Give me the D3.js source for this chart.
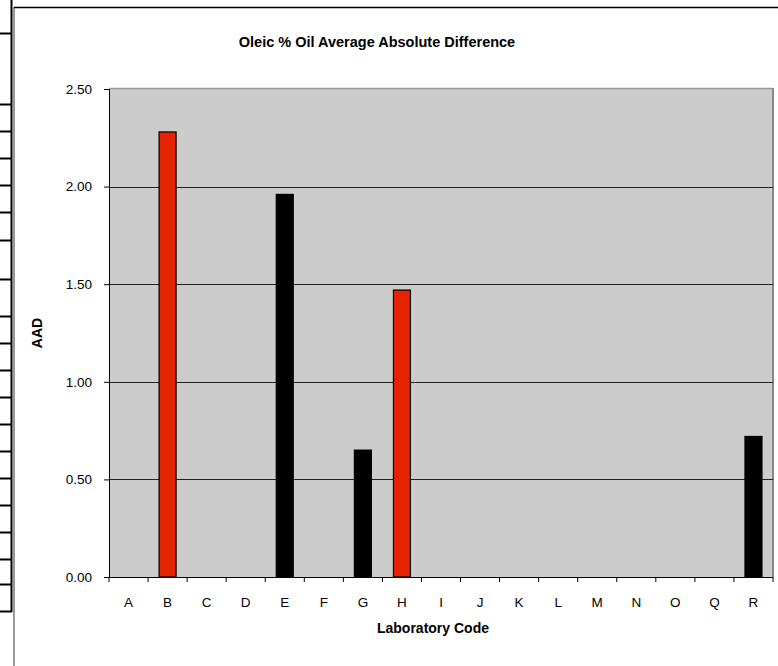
<!DOCTYPE html>
<html><head><meta charset="utf-8">
<script src="https://cdn.jsdelivr.net/npm/d3@7"></script>
<style>body{margin:0;background:#fff}svg{display:block;font-family:"Liberation Sans",Arial,sans-serif}</style>
</head><body>
<svg id="c" width="778" height="666"></svg>
<script>
const categories = ["A","B","C","D","E","F","G","H","I","J","K","L","M","N","O","Q","R"];
const values =     [0, 2.28, 0, 0, 1.96, 0, 0.65, 1.47, 0, 0, 0, 0, 0, 0, 0, 0, 0.72];
const barColors =  ["black","red","black","black","black","black","black","red","black","black","black","black","black","black","black","black","black"];
const yTicks = [0, 0.5, 1.0, 1.5, 2.0, 2.5];
const title = "Oleic % Oil Average Absolute Difference";
const xTitle = "Laboratory Code";
const yTitle = "AAD";
const sheetRows = [33,104,131,158,185,212,240,279,316,343,370,397,424,451,478,505,532,559,584,611];

const svg = d3.select("#c");
const colorMap = {red:"#e42400", black:"#000000"};
const FF = "Liberation Sans, Arial, sans-serif";

// spreadsheet decoration at left
svg.selectAll("line.row").data(sheetRows).enter().append("line")
  .attr("x1",0).attr("x2",12).attr("y1",d=>d+0.5).attr("y2",d=>d+0.5)
  .attr("stroke","#000").attr("stroke-width",2);
svg.append("line").attr("x1",11.5).attr("x2",11.5).attr("y1",0).attr("y2",612).attr("stroke","#000").attr("stroke-width",2);
svg.append("line").attr("x1",14).attr("x2",14).attr("y1",7).attr("y2",666).attr("stroke","#777").attr("stroke-width",1.5);
svg.append("line").attr("x1",14).attr("x2",778).attr("y1",7.5).attr("y2",7.5).attr("stroke","#000").attr("stroke-width",1.5);

const L=109, R=773, T=89, B=577;
const x = d3.scaleBand().domain(categories).range([L,R]).paddingInner(0.565).paddingOuter(0.2825);
const y = d3.scaleLinear().domain([0,2.5]).range([B,T]);

// plot area
svg.append("rect").attr("x",L).attr("y",T).attr("width",R-L).attr("height",B-T).attr("fill","#cccccc");
svg.append("line").attr("x1",L).attr("x2",R).attr("y1",T-0.5).attr("y2",T-0.5).attr("stroke","#999").attr("stroke-width",1.5);
svg.append("line").attr("x1",R).attr("x2",R).attr("y1",T-1).attr("y2",B).attr("stroke","#888").attr("stroke-width",2);

// gridlines
svg.selectAll("line.grid").data(yTicks.filter(d=>d>0 && d<2.5)).enter().append("line")
  .attr("x1",L).attr("x2",R).attr("y1",d=>Math.round(y(d))+0.5).attr("y2",d=>Math.round(y(d))+0.5)
  .attr("stroke","#222").attr("stroke-width",1);

// bars
svg.selectAll("rect.bar").data(categories.map((c,i)=>({c,v:values[i],col:barColors[i]})).filter(d=>d.v>0))
  .enter().append("rect")
  .attr("x",d=>x(d.c)).attr("y",d=>y(d.v)).attr("width",x.bandwidth()).attr("height",d=>B-y(d.v))
  .attr("fill",d=>colorMap[d.col]).attr("stroke","#000").attr("stroke-width",1.2);

// y axis
const yAxis = svg.append("g").attr("transform",`translate(${L},0)`)
  .call(d3.axisLeft(y).tickValues(yTicks).tickFormat(d3.format(".2f")).tickSize(5).tickPadding(12));
yAxis.select(".domain").attr("stroke","#000").attr("d",`M0.5,${T}V${B}`);
yAxis.selectAll("text").attr("font-size","13.5px").attr("fill","#000").style("font-family",FF);

// x axis
const xAxis = svg.append("g").attr("transform",`translate(0,${B})`)
  .call(d3.axisBottom(x).tickSize(0).tickPadding(20));
xAxis.select(".domain").attr("stroke","#000").attr("d",`M${L},0.5H${R}`);
xAxis.selectAll("text").attr("font-size","13.5px").attr("fill","#000").style("font-family",FF);
const step = x.step();
svg.selectAll("line.xt").data(d3.range(categories.length+1)).enter().append("line")
  .attr("x1",i=>L+i*step).attr("x2",i=>L+i*step).attr("y1",B).attr("y2",B+5).attr("stroke","#000");

// titles
svg.append("text").attr("x",377).attr("y",46.5).attr("text-anchor","middle").attr("font-size","14.5px").attr("font-weight","bold").text(title);
svg.append("text").attr("x",433).attr("y",632.5).attr("text-anchor","middle").attr("font-size","14px").attr("font-weight","bold").text(xTitle);
svg.append("text").attr("transform","translate(42,333) rotate(-90)").attr("text-anchor","middle").attr("font-size","14px").attr("font-weight","bold").text(yTitle);
</script>
</body></html>
